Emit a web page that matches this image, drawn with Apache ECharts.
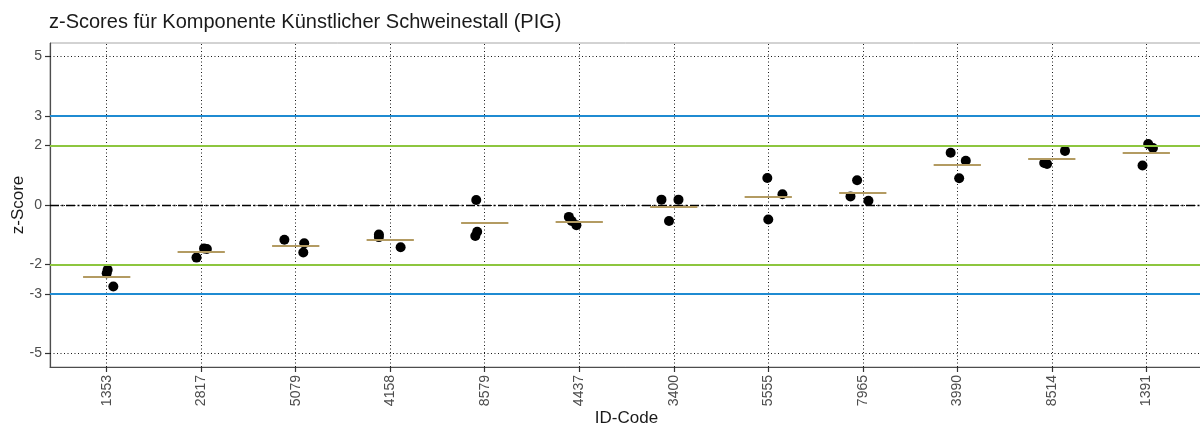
<!DOCTYPE html>
<html>
<head>
<meta charset="utf-8">
<script src="https://cdn.jsdelivr.net/npm/echarts@6/dist/echarts.min.js"></script>
<style>html,body{margin:0;padding:0;background:#fff}#c{width:1200px;height:428px}</style>
</head>
<body>
<div id="c"></div>
<script>
const categories = ['1353','2817','5079','4158','8579','4437','3400','5555','7965','3990','8514','1391'];
const scores = [
  [-2.18, -2.30, -2.74],
  [-1.77, -1.46, -1.48],
  [-1.17, -1.29, -1.60],
  [-0.99, -1.08, -1.42],
  [0.17, -0.90, -1.04],
  [-0.40, -0.54, -0.68],
  [0.18, 0.18, -0.54],
  [0.91, 0.36, -0.49],
  [0.83, 0.29, 0.14],
  [1.76, 1.49, 0.90],
  [1.41, 1.38, 1.82],
  [2.05, 1.92, 1.33]
];
const jitter = [
  [0.01, 0.00, 0.07],
  [-0.05, 0.03, 0.06],
  [-0.12, 0.09, 0.08],
  [-0.12, -0.12, 0.11],
  [-0.09, -0.08, -0.10],
  [-0.11, -0.08, -0.03],
  [-0.13, 0.05, -0.05],
  [-0.01, 0.15, 0.00],
  [-0.06, -0.13, 0.06],
  [-0.07, 0.09, 0.02],
  [-0.08, -0.05, 0.14],
  [0.02, 0.07, -0.04]
];
const means = [-2.41, -1.57, -1.36, -1.18, -0.61, -0.56, -0.06, 0.27, 0.42, 1.37, 1.54, 1.75];
const yTicks = [5, 3, 2, 0, -2, -3, -5];
const limitOuter = [3, -3];
const limitInner = [2, -2];

const FONT = 'Liberation Sans, Arial, sans-serif';
const catIdx = categories.map((c, i) => i);

const points = [];
scores.forEach((arr, i) => arr.forEach((v, j) => points.push([i + jitter[i][j], v])));

const dotted = { color: '#000', width: 1, type: [1, 2.5], opacity: 0.9 };

const option = {
  animation: false,
  backgroundColor: '#fff',
  title: {
    text: 'z-Scores für Komponente Künstlicher Schweinestall (PIG)',
    left: 49, top: 12, padding: 0,
    textStyle: { fontFamily: FONT, fontSize: 20, fontWeight: 'normal', color: '#1a1a1a' }
  },
  grid: { left: 50, top: 43, width: 1153, height: 324, show: true, borderColor: '#a6a6a6', borderWidth: 1,
    containLabel: false, outerBoundsMode: 'none' },
  xAxis: {
    type: 'value', min: -0.6, max: 11.6,
    name: 'ID-Code', nameLocation: 'middle', nameGap: 43, nameMoveOverlap: false,
    nameTextStyle: { fontFamily: FONT, fontSize: 17, color: '#1a1a1a' },
    axisLine: { show: true, onZero: false, lineStyle: { color: '#4d4d4d', width: 1.2 } },
    axisTick: { show: true, length: 5, customValues: catIdx, lineStyle: { color: '#333', width: 1.2 } },
    axisLabel: { customValues: catIdx, rotate: 90, margin: 8, fontFamily: FONT, fontSize: 14, color: '#4d4d4d',
      formatter: v => categories[Math.round(v)] },
    splitLine: { show: false }
  },
  yAxis: {
    type: 'value', min: -5.45, max: 5.45,
    name: 'z-Score', nameLocation: 'middle', nameGap: 23, nameRotate: 90, nameMoveOverlap: false,
    nameTextStyle: { fontFamily: FONT, fontSize: 17, color: '#1a1a1a' },
    axisLine: { show: true, onZero: false, lineStyle: { color: '#4d4d4d', width: 1.2 } },
    axisTick: { show: true, length: 5, customValues: yTicks, lineStyle: { color: '#333', width: 1.2 } },
    axisLabel: { customValues: yTicks, margin: 8, fontFamily: FONT, fontSize: 14, color: '#4d4d4d' },
    splitLine: { show: false }
  },
  series: [
    {
      type: 'line', data: [], z: 1, silent: true,
      markLine: {
        silent: true, symbol: 'none', label: { show: false }, lineStyle: dotted,
        data: catIdx.map(i => ({ xAxis: i })).concat(yTicks.map(v => ({ yAxis: v })))
      }
    },
    {
      type: 'line', data: [], z: 2, silent: true,
      markLine: {
        silent: true, symbol: 'none', label: { show: false },
        data: limitOuter.map(v => ({ yAxis: v, lineStyle: { color: '#1f8bd2', width: 2, type: 'solid' } }))
          .concat(limitInner.map(v => ({ yAxis: v, lineStyle: { color: '#8dc63f', width: 2, type: 'solid' } })))
          .concat([{ yAxis: 0, lineStyle: { color: '#000', width: 1.4, type: [9, 2.5, 2, 2.5] } }])
      }
    },
    {
      type: 'scatter', data: points, z: 3, symbol: 'circle', symbolSize: 10,
      itemStyle: { color: '#000', opacity: 1 }
    },
    {
      type: 'line', data: [], z: 4, silent: true,
      markLine: {
        silent: true, symbol: 'none', label: { show: false },
        lineStyle: { color: '#b39b62', width: 2, type: 'solid' },
        data: means.map((m, i) => [{ coord: [i - 0.25, m] }, { coord: [i + 0.25, m] }])
      }
    }
  ]
};

const chart = echarts.init(document.getElementById('c'), null, { renderer: 'canvas' });
chart.setOption(option);
</script>
</body>
</html>
